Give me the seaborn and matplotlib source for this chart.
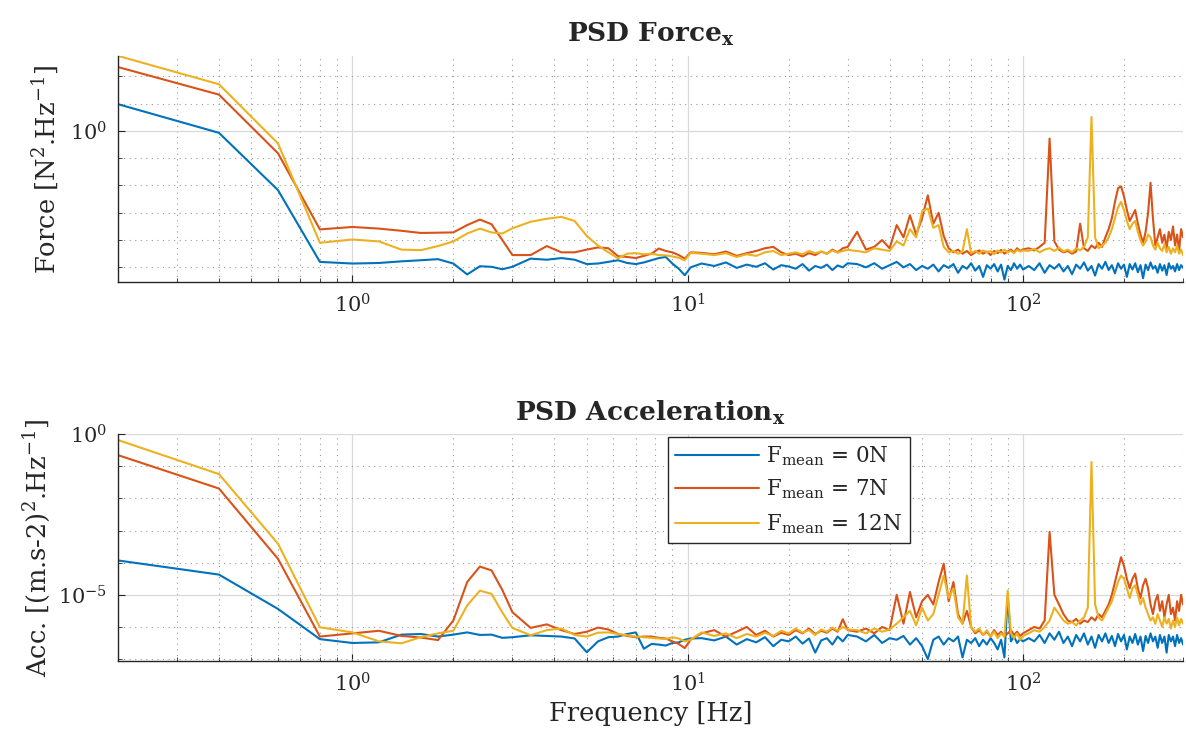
import numpy as np
import pandas as pd
import matplotlib
matplotlib.use("Agg")
import matplotlib.pyplot as plt
import seaborn as sns
from matplotlib.ticker import FixedLocator, LogLocator, NullFormatter, LogFormatterSciNotation

# Frequency grid of the PSD estimates (0.2 Hz resolution, thinned at high frequency)
freq = np.r_[np.arange(1, 16) * 0.2,          # 0.2 .. 3.0
             np.arange(17, 52, 2) * 0.2,      # 3.4 .. 10.2
             np.arange(11, 31),               # 11 .. 30
             np.arange(32, 101, 2),           # 32 .. 100
             np.arange(104, 301, 4)]          # 104 .. 300

cases = ["0N", "7N", "12N"]
labels = [r"F$_{\mathrm{mean}}$ = " + c for c in cases]
colors = ["#0072BD", "#D95319", "#EDB120"]

# PSD values, given as log10 (decades)
force_0N = [0.98, -0.07, -2.17, -4.80, -4.86, -4.84, -4.78, -4.74, -4.70, -4.86, -5.26, -4.96, -4.98, -5.07, -4.98,
            -4.68, -4.72, -4.66, -4.72, -4.88, -4.86, -4.80, -4.74, -4.84, -4.88, -4.82, -4.74, -4.66, -4.62, -4.86, -5.05, -5.29, -5.00,
            -4.86, -4.95, -4.82, -5.02, -4.90, -4.98, -4.85, -5.08, -4.92, -4.97, -5.05, -4.88, -5.12, -4.95, -5.02, -4.90, -5.10, -4.93, -5.00, -4.85,
            -4.88, -5.00, -4.85, -5.05, -4.92, -4.80, -5.00, -4.88, -5.10, -4.95, -5.05, -4.90, -5.15, -4.92, -5.02, -4.88, -5.20, -4.95,
            -5.05, -4.85, -5.12, -4.95, -5.35, -4.92, -5.05, -4.88, -5.15, -4.90, -5.45, -4.95, -5.10, -4.85, -5.05, -4.90, -5.08,
            -4.95, -5.10, -4.85, -5.20, -4.92, -5.05, -4.88, -5.15, -4.95, -5.25,
            -4.90, -5.05, -4.82, -5.12, -4.95, -5.30, -4.88, -5.05, -4.80, -5.10,
            -4.92, -5.22, -4.85, -5.05, -4.90, -5.35, -4.88, -5.08, -4.85, -5.18,
            -4.92, -5.40, -4.90, -5.10, -4.82, -5.05, -4.95, -5.20, -4.88, -5.12,
            -4.92, -5.28, -4.85, -5.05, -4.95, -5.15, -4.88, -5.10, -4.92, -5.02]
force_7N = [2.34, 1.33, -0.82, -3.61, -3.52, -3.58, -3.66, -3.74, -3.73, -3.72, -3.45, -3.25, -3.42, -4.00, -4.55,
            -4.55, -4.22, -4.45, -4.45, -4.35, -4.27, -4.30, -4.59, -4.62, -4.66, -4.58, -4.50, -4.31, -4.40, -4.45, -4.55, -4.68, -4.45,
            -4.47, -4.52, -4.42, -4.58, -4.48, -4.40, -4.30, -4.25, -4.45, -4.55, -4.50, -4.60, -4.48, -4.55, -4.42, -4.50, -4.35, -4.45, -4.30, -4.25,
            -3.70, -4.35, -4.25, -4.00, -4.30, -3.45, -3.90, -3.09, -3.80, -3.20, -2.36, -3.40, -3.00, -3.85, -4.30, -4.45, -4.35, -4.50,
            -4.40, -4.55, -4.45, -4.38, -4.50, -4.42, -4.55, -4.40, -4.48, -4.36, -4.50, -4.42, -4.35, -4.45, -4.30, -4.40, -4.34,
            -4.30, -4.38, -4.25, -4.10, -0.28, -4.05, -4.35, -4.45, -4.40, -4.50,
            -4.42, -3.40, -4.30, -4.40, -4.20, -4.30, -4.10, -4.25, -3.90, -3.60,
            -3.20, -2.60, -2.10, -2.03, -2.40, -2.90, -3.30, -3.10, -2.90, -3.40,
            -3.80, -4.10, -3.70, -3.00, -1.90, -3.20, -4.20, -3.90, -3.60, -4.10,
            -3.80, -4.30, -3.70, -4.00, -3.50, -4.20, -3.80, -4.40, -3.60, -3.90]
force_12N = [2.75, 1.71, -0.46, -4.10, -3.98, -4.05, -4.35, -4.37, -4.22, -4.05, -3.76, -3.58, -3.72, -3.76, -3.57,
             -3.33, -3.22, -3.15, -3.30, -3.85, -4.20, -4.45, -4.67, -4.50, -4.48, -4.52, -4.50, -4.55, -4.56, -4.60, -4.65, -4.74, -4.47,
             -4.50, -4.55, -4.48, -4.62, -4.52, -4.58, -4.45, -4.40, -4.55, -4.50, -4.45, -4.52, -4.40, -4.48, -4.42, -4.50, -4.38, -4.46, -4.40, -4.36,
             -4.40, -4.45, -4.30, -4.35, -4.40, -4.05, -4.20, -3.60, -3.90, -2.95, -2.84, -3.55, -3.45, -4.25, -4.45, -4.40, -4.50, -4.42,
             -3.60, -4.48, -4.40, -4.50, -4.38, -4.45, -4.40, -4.52, -4.38, -4.46, -4.35, -4.45, -4.40, -4.48, -4.36, -4.42, -4.38,
             -4.40, -4.32, -4.45, -4.35, -4.30, -4.40, -4.28, -4.42, -4.35, -4.45,
             -4.30, -4.38, -4.25, -3.90, 0.51, -3.90, -4.30, -4.20, -4.10, -3.90,
             -3.60, -3.20, -2.80, -2.60, -2.90, -3.30, -3.60, -3.40, -3.30, -3.70,
             -4.00, -4.20, -4.05, -3.80, -3.90, -4.20, -4.35, -4.10, -4.30, -4.40,
             -4.15, -4.45, -4.25, -4.50, -4.30, -4.45, -4.20, -4.50, -4.35, -4.55]

acc_0N = [-3.93, -4.37, -5.44, -6.38, -6.50, -6.48, -6.24, -6.22, -6.30, -6.24, -6.17, -6.25, -6.24, -6.34, -6.32,
          -6.26, -6.28, -6.30, -6.36, -6.79, -6.45, -6.32, -6.30, -6.22, -6.17, -6.68, -6.53, -6.55, -6.58, -6.50, -6.48, -6.40, -6.36,
          -6.35, -6.42, -6.30, -6.55, -6.38, -6.48, -6.32, -6.60, -6.40, -6.45, -6.30, -6.52, -6.36, -6.80, -6.42, -6.35, -6.55, -6.30, -6.45, -6.25,
          -6.30, -6.45, -6.25, -6.50, -6.35, -6.40, -6.28, -6.55, -6.35, -6.60, -7.00, -6.40, -6.30, -6.55, -6.35, -6.45, -6.30, -6.95,
          -6.40, -6.50, -6.35, -6.60, -6.40, -6.55, -6.35, -6.50, -6.70, -6.40, -6.95, -5.03, -6.45, -6.30, -6.50, -6.38, -6.45,
          -6.35, -6.45, -6.25, -6.50, -6.20, -6.40, -6.15, -6.50, -6.30, -6.60,
          -6.25, -6.45, -6.20, -6.55, -6.30, -6.65, -6.25, -6.45, -6.20, -6.50,
          -6.28, -6.60, -6.22, -6.45, -6.25, -6.70, -6.30, -6.50, -6.22, -6.55,
          -6.30, -6.75, -6.28, -6.50, -6.20, -6.45, -6.30, -6.65, -6.25, -6.50,
          -6.30, -6.80, -6.25, -6.45, -6.30, -6.60, -6.25, -6.50, -6.35, -6.55]
acc_7N = [-0.65, -1.69, -3.88, -6.30, -6.20, -6.12, -6.28, -6.33, -6.41, -5.80, -4.60, -4.12, -4.24, -4.85, -5.54,
          -6.03, -5.92, -6.10, -6.22, -6.15, -6.02, -6.08, -6.22, -6.28, -6.32, -6.30, -6.30, -6.34, -6.36, -6.45, -6.53, -6.66, -6.40,
          -6.20, -6.10, -6.30, -6.15, -6.00, -6.25, -6.12, -6.30, -6.18, -6.25, -6.10, -6.20, -6.05, -6.22, -6.12, -6.18, -6.05, -6.15, -5.76, -6.10,
          -6.15, -6.05, -6.20, -6.00, -6.10, -5.00, -5.90, -4.91, -5.70, -5.20, -5.00, -5.30, -4.60, -4.03, -5.20, -4.60, -5.60, -5.90,
          -5.50, -6.00, -6.20, -6.10, -6.25, -6.15, -6.30, -6.10, -6.25, -6.15, -6.30, -6.20, -6.10, -6.25, -6.15, -6.28, -6.20,
          -6.10, -6.00, -6.05, -5.80, -3.04, -5.00, -5.30, -5.60, -5.80, -5.85,
          -5.75, -5.90, -5.80, -5.85, -5.70, -5.80, -5.60, -5.70, -5.50, -5.30,
          -5.00, -4.60, -4.20, -3.83, -4.10, -4.50, -4.80, -4.50, -4.34, -4.80,
          -5.10, -4.70, -4.50, -4.80, -5.30, -5.60, -5.20, -5.00, -5.50, -5.20,
          -5.70, -5.30, -5.00, -5.60, -5.40, -5.80, -5.20, -5.50, -5.00, -5.30]
acc_12N = [-0.18, -1.24, -3.41, -6.01, -6.17, -6.45, -6.51, -6.32, -6.20, -6.12, -5.33, -4.87, -4.97, -5.55, -6.03,
           -6.26, -6.10, -6.05, -6.25, -6.30, -6.18, -6.17, -6.22, -6.26, -6.30, -6.32, -6.34, -6.36, -6.38, -6.32, -6.36, -6.45, -6.40,
           -6.17, -6.28, -6.20, -6.35, -6.22, -6.30, -6.18, -6.28, -6.12, -6.20, -6.05, -6.18, -6.10, -6.25, -6.08, -6.15, -6.02, -6.12, -6.00, -6.08,
           -6.10, -6.20, -6.05, -6.15, -6.08, -5.90, -5.70, -5.50, -5.95, -5.40, -5.80, -5.60, -5.00, -4.40, -5.10, -4.80, -5.70, -5.90,
           -4.40, -6.00, -6.15, -6.05, -6.25, -6.10, -6.30, -6.15, -6.35, -6.20, -6.30, -4.87, -6.20, -6.35, -6.20, -6.40, -6.28,
           -6.20, -6.10, -6.15, -6.00, -5.80, -5.40, -5.60, -5.80, -5.90, -5.85,
           -5.95, -5.80, -5.70, -5.40, -0.86, -5.30, -5.70, -5.80, -5.60, -5.40,
           -5.20, -4.90, -4.60, -4.40, -4.50, -4.80, -5.10, -4.80, -4.70, -5.00,
           -5.30, -5.10, -5.40, -5.60, -5.80, -5.70, -5.90, -5.60, -5.80, -6.00,
           -5.70, -5.90, -5.75, -6.05, -5.80, -6.00, -5.70, -5.95, -5.75, -5.90]


def make_df(series):
    return pd.DataFrame({
        "freq": np.tile(freq, len(series)),
        "psd": 10.0 ** np.concatenate([np.asarray(s) for s in series]),
        "case": np.repeat(labels, len(freq)),
    })


sns.set_style("ticks")
plt.rcParams["font.family"] = ["DejaVu Serif"]
plt.rcParams["mathtext.fontset"] = "dejavuserif"

ink = "#262626"

fig = plt.figure(figsize=(11.86, 7.45), dpi=100)
ax_f = fig.add_axes([0.0995, 0.621, 0.898, 0.304])
ax_a = fig.add_axes([0.0995, 0.1128, 0.898, 0.3043])


def style_axes(ax, ylim, ymajor, yminor):
    ax.set_xscale("log")
    ax.set_yscale("log")
    ax.set_xlim(0.2, 300)
    ax.set_ylim(*ylim)
    ax.xaxis.set_major_locator(FixedLocator([1, 10, 100]))
    ax.xaxis.set_minor_locator(LogLocator(base=10, subs=np.arange(2, 10), numticks=30))
    ax.xaxis.set_major_formatter(LogFormatterSciNotation())
    ax.xaxis.set_minor_formatter(NullFormatter())
    ax.yaxis.set_major_locator(FixedLocator(ymajor))
    ax.yaxis.set_minor_locator(FixedLocator(yminor))
    ax.yaxis.set_major_formatter(LogFormatterSciNotation())
    ax.yaxis.set_minor_formatter(NullFormatter())
    ax.grid(which="major", color="#d9d9d9", lw=0.9, ls="-")
    ax.grid(which="minor", color="#9a9a9a", lw=0.8, ls=(0, (1, 4)))
    ax.set_axisbelow(True)
    for side in ["top", "right"]:
        ax.spines[side].set_visible(False)
    for side in ["left", "bottom"]:
        ax.spines[side].set_color(ink)
        ax.spines[side].set_linewidth(1.0)
    ax.tick_params(which="both", direction="in", colors=ink, labelsize=15,
                   top=False, right=False, pad=8)
    ax.tick_params(which="major", length=5)
    ax.tick_params(which="minor", length=3)


# Force PSD
sns.lineplot(data=make_df([force_0N, force_7N, force_12N]), x="freq", y="psd",
             hue="case", hue_order=labels, palette=colors, lw=1.5,
             ax=ax_f, legend=False)
style_axes(ax_f, (10 ** -5.55, 10 ** 2.75), [1.0],
           [10.0 ** k for k in range(-5, 3) if k != 0])
ax_f.set_title(r"PSD Force$_{\mathbf{x}}$", fontsize=19, fontweight="bold", pad=10)
ax_f.set_xlabel("")
ax_f.set_ylabel(r"Force [N$^2$.Hz$^{-1}$]", fontsize=18.5, color=ink, labelpad=6)

# Acceleration PSD
sns.lineplot(data=make_df([acc_0N, acc_7N, acc_12N]), x="freq", y="psd",
             hue="case", hue_order=labels, palette=colors, lw=1.5,
             ax=ax_a, legend=True)
style_axes(ax_a, (10 ** -7.06, 1.0), [1e-5, 1.0],
           [10.0 ** k for k in range(-7, 0) if k != -5])
ax_a.set_title(r"PSD Acceleration$_{\mathbf{x}}$", fontsize=19, fontweight="bold", pad=10)
ax_a.set_xlabel("Frequency [Hz]", fontsize=18.5, color=ink)
ax_a.set_ylabel(r"Acc. [(m.s-2)$^2$.Hz$^{-1}$]", fontsize=18.5, color=ink, labelpad=4)

handles, names = ax_a.get_legend_handles_labels()
leg = ax_a.legend(handles, names, loc="upper left", bbox_to_anchor=(0.516, 0.988),
                  borderaxespad=0, fontsize=15.5, frameon=True, fancybox=False,
                  framealpha=1, edgecolor=ink, handlelength=3.9, handletextpad=0.3,
                  borderpad=0.35, labelspacing=0.45)
leg.get_frame().set_linewidth(1.0)

fig.savefig("out.png", dpi=100)
